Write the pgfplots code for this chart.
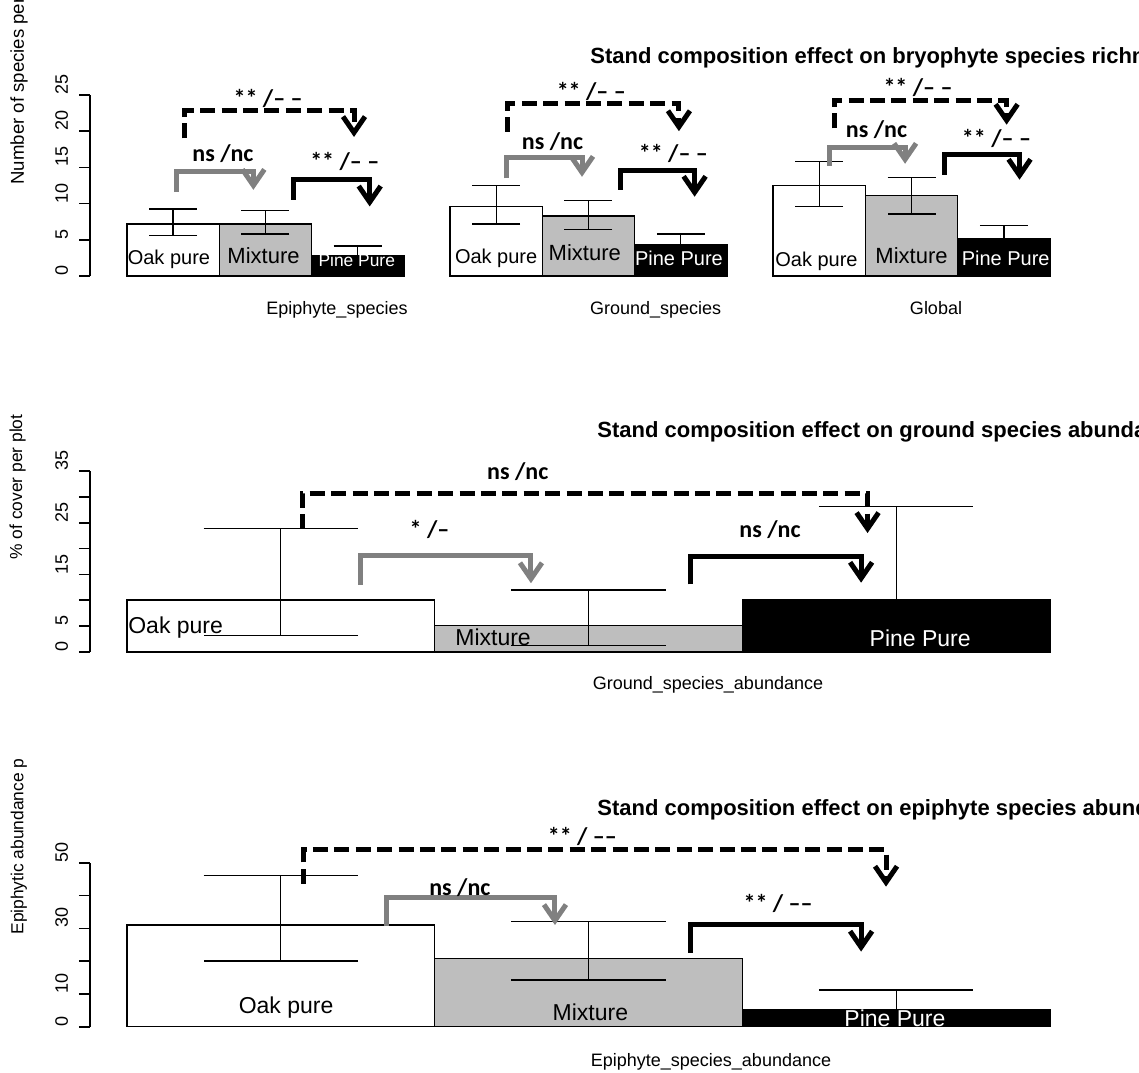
\documentclass[border=0pt]{standalone}
\usepackage{pgfplots}
\pgfplotsset{compat=1.18}
\usetikzlibrary{arrows.meta}
\usepackage{fontspec}
\setmainfont{Liberation Sans}
\newfontfamily\calib{Carlito}
\definecolor{barg}{HTML}{BEBEBE}
\definecolor{arrg}{HTML}{808080}
\tikzset{
  sig/.style={line width=2.5pt, line join=miter, -{Straight Barb[length=8pt,width=11pt]}},
  sigd/.style={sig, dash pattern=on 7.5pt off 3.2pt},
  slab/.style={font=\calib\bfseries\fontsize{12}{12}\selectfont, inner sep=0pt},
}
\pgfplotsset{
  panel/.style={
    scale only axis, width=480pt,
    axis y line*=left, axis x line=none,
    xtick=\empty,
    ytick align=outside, major tick length=5.5pt,
    y axis line style={line width=0.8pt},
    ytick style={line width=0.8pt, black},
    yticklabel style={xshift=-5.25pt, rotate=90, anchor=south west, inner sep=0pt, font=\fontsize{9}{9}\selectfont},
    clip=false, enlargelimits=false,
  },
  bar/.style 2 args={ybar, bar width=1, bar shift=0pt, draw=black, line width=0.65pt, fill=#1,
     error bars/.cd, y dir=both, y explicit,
     error bar style={line width=0.65pt, black, solid},
     error mark options={rotate=90, mark size=#2, line width=0.65pt, black, solid}},
}
\begin{document}
\begin{tikzpicture}
\useasboundingbox (0,0) rectangle (569.5pt,536pt);
%---------------- top panel
\begin{axis}[panel, at={(45pt,398pt)}, anchor=south west, height=90.5pt,
  xmin=-0.4, xmax=10, ymin=0, ymax=25, ytick={0,5,...,25}, yticklabels={0,5,10,15,20,25}]
\addplot[bar={white}{12pt}] coordinates {(0.5,7.2) += (0,2.05) -= (0,1.6) (4,9.57) += (0,2.93) -= (0,2.37) (7.5,12.5) += (0,3.3) -= (0,2.93)};
\addplot[bar={barg}{12pt}] coordinates {(1.5,7.2) += (0,1.8) -= (0,1.4) (5,8.3) += (0,2.1) -= (0,1.85) (8.5,11.1) += (0,2.5) -= (0,2.54)};
\addplot[bar={black}{12pt}] coordinates {(2.5,2.85) += (0,1.3) -= (0,1.3) (6,4.28) += (0,1.52) -= (0,1.52) (9.5,5.1) += (0,1.85) -= (0,1.85)};
% bar labels
\node[anchor=base, inner sep=0pt, font=\fontsize{10}{10}\selectfont] at (axis cs:0.455,1.52) {Oak pure};
\node[anchor=base, inner sep=0pt, font=\fontsize{11}{11}\selectfont] at (axis cs:1.48,1.75) {Mixture};
\node[anchor=base, inner sep=0pt, text=white, font=\fontsize{8.7}{8.7}\selectfont] at (axis cs:2.49,1.3) {Pine Pure};
\node[anchor=base, inner sep=0pt, font=\fontsize{10}{10}\selectfont] at (axis cs:4.0,1.75) {Oak pure};
\node[anchor=base, inner sep=0pt, font=\fontsize{11}{11}\selectfont] at (axis cs:4.96,2.2) {Mixture};
\node[anchor=base, inner sep=0pt, text=white, font=\fontsize{10}{10}\selectfont] at (axis cs:5.98,1.5) {Pine Pure};
\node[anchor=base, inner sep=0pt, font=\fontsize{10}{10}\selectfont] at (axis cs:7.47,1.3) {Oak pure};
\node[anchor=base, inner sep=0pt, font=\fontsize{11}{11}\selectfont] at (axis cs:8.5,1.75) {Mixture};
\node[anchor=base, inner sep=0pt, text=white, font=\fontsize{10}{10}\selectfont] at (axis cs:9.52,1.5) {Pine Pure};
% group 1
\draw[sigd] (axis cs:0.628,19.0) -- (axis cs:0.628,22.8) -- (axis cs:2.46,22.8) -- (axis cs:2.46,19.2);
\node[slab] at (axis cs:1.53,24.5) {** /– –};
\draw[sig, arrg] (axis cs:0.538,11.6) -- (axis cs:0.538,14.4) -- (axis cs:1.37,14.4) -- (axis cs:1.37,11.9);
\node[slab] at (axis cs:1.04,16.9) {ns /nc};
\draw[sig] (axis cs:1.80,10.5) -- (axis cs:1.80,13.3) -- (axis cs:2.63,13.3) -- (axis cs:2.63,9.6);
\node[slab] at (axis cs:2.36,15.8) {** /– –};
% group 2
\draw[sigd] (axis cs:4.12,19.9) -- (axis cs:4.12,23.8) -- (axis cs:5.98,23.8) -- (axis cs:5.98,20.0);
\node[slab] at (axis cs:5.03,25.5) {** /– –};
\draw[sig, arrg] (axis cs:4.11,13.5) -- (axis cs:4.11,16.3) -- (axis cs:4.93,16.3) -- (axis cs:4.93,13.7);
\node[slab] at (axis cs:4.61,18.5) {ns /nc};
\draw[sig] (axis cs:5.35,11.9) -- (axis cs:5.35,14.6) -- (axis cs:6.15,14.6) -- (axis cs:6.15,10.95);
\node[slab] at (axis cs:5.92,16.9) {** /– –};
% group 3
\draw[sigd] (axis cs:7.66,20.4) -- (axis cs:7.66,24.3) -- (axis cs:9.53,24.3) -- (axis cs:9.53,20.9);
\node[slab] at (axis cs:8.57,26.1) {** /– –};
\draw[sig, arrg] (axis cs:7.61,15.2) -- (axis cs:7.61,17.8) -- (axis cs:8.43,17.8) -- (axis cs:8.43,15.5);
\node[slab] at (axis cs:8.12,20.2) {ns /nc};
\draw[sig] (axis cs:8.86,14.0) -- (axis cs:8.86,16.8) -- (axis cs:9.67,16.8) -- (axis cs:9.67,13.3);
\node[slab] at (axis cs:9.42,19.0) {** /– –};
\end{axis}
%---------------- middle panel
\begin{axis}[panel, at={(45pt,210pt)}, anchor=south west, height=90.5pt,
  xmin=-0.1203, xmax=3, ymin=0, ymax=35, ytick={0,5,...,35}, yticklabels={0,5,,15,,25,,35}]
\addplot[bar={white}{38.6pt}] coordinates {(0.5,10.06) += (0,13.84) -= (0,6.86)};
\addplot[bar={barg}{38.6pt}] coordinates {(1.5,5.1) += (0,6.9) -= (0,3.9)};
\addplot[bar={black}{38.6pt}] coordinates {(2.5,10.06) += (0,18.04) -= (0,6.0)};
\node[anchor=base west, inner sep=0pt, font=\fontsize{11.5}{11.5}\selectfont] at (axis cs:0.003,3.5) {Oak pure};
\node[anchor=base west, inner sep=0pt, font=\fontsize{11.5}{11.5}\selectfont] at (axis cs:1.066,1.35) {Mixture};
\node[anchor=base, inner sep=0pt, text=white, font=\fontsize{11.5}{11.5}\selectfont] at (axis cs:2.578,1.0) {Pine Pure};
\draw[sigd] (axis cs:0.569,23.8) -- (axis cs:0.569,30.6) -- (axis cs:2.407,30.6) -- (axis cs:2.407,23.0);
\node[slab] at (axis cs:1.27,34.8) {ns /nc};
\draw[sig, arrg] (axis cs:0.76,13.0) -- (axis cs:0.76,18.6) -- (axis cs:1.313,18.6) -- (axis cs:1.313,13.3);
\node[slab] at (axis cs:0.983,23.6) {* /–};
\draw[sig] (axis cs:1.833,13.1) -- (axis cs:1.833,18.4) -- (axis cs:2.386,18.4) -- (axis cs:2.386,13.4);
\node[slab] at (axis cs:2.09,23.6) {ns /nc};
\end{axis}
%---------------- bottom panel
\begin{axis}[panel, at={(45pt,22.65pt)}, anchor=south west, height=82pt,
  xmin=-0.1203, xmax=3, ymin=0, ymax=50, ytick={0,10,...,50}, yticklabels={0,10,,30,,50}]
\addplot[bar={white}{38.6pt}] coordinates {(0.5,31.0) += (0,15.0) -= (0,11.0)};
\addplot[bar={barg}{38.6pt}] coordinates {(1.5,20.8) += (0,11.3) -= (0,6.6)};
\addplot[bar={black}{38.6pt}] coordinates {(2.5,5.1) += (0,6.1) -= (0,4.0)};
\node[anchor=base, inner sep=0pt, font=\fontsize{11.5}{11.5}\selectfont] at (axis cs:0.517,4.1) {Oak pure};
\node[anchor=base, inner sep=0pt, font=\fontsize{11.5}{11.5}\selectfont] at (axis cs:1.506,2.0) {Mixture};
\node[anchor=base, inner sep=0pt, text=white, font=\fontsize{11.5}{11.5}\selectfont] at (axis cs:2.496,0.2) {Pine Pure};
\draw[sigd] (axis cs:0.575,43.6) -- (axis cs:0.575,53.9) -- (axis cs:2.467,53.9) -- (axis cs:2.467,42.7);
\node[slab] at (axis cs:1.48,57.9) {** / ––};
\draw[sig, arrg] (axis cs:0.843,30.7) -- (axis cs:0.843,39.3) -- (axis cs:1.391,39.3) -- (axis cs:1.391,31.0);
\node[slab] at (axis cs:1.082,42.5) {ns /nc};
\draw[sig] (axis cs:1.833,22.6) -- (axis cs:1.833,31.2) -- (axis cs:2.386,31.2) -- (axis cs:2.386,22.9);
\node[slab] at (axis cs:2.116,37.6) {** / ––};
\end{axis}
%---------------- free text, pixel coordinates (origin top-left)
\begin{scope}[yshift=536pt, x=0.5pt, y=-0.5pt]
\node[anchor=base west, inner sep=0pt, font=\bfseries\fontsize{11}{12}\selectfont] at (590,63.5) {Stand composition effect on bryophyte species richness};
\node[anchor=base west, inner sep=0pt, font=\bfseries\fontsize{11}{12}\selectfont] at (597,438) {Stand composition effect on ground species abundance};
\node[anchor=base west, inner sep=0pt, font=\bfseries\fontsize{11}{12}\selectfont] at (597,815) {Stand composition effect on epiphyte species abundance};
\node[anchor=base, inner sep=0pt, font=\fontsize{9}{9}\selectfont] at (337,315) {Epiphyte\_species};
\node[anchor=base, inner sep=0pt, font=\fontsize{9}{9}\selectfont] at (655.7,315) {Ground\_species};
\node[anchor=base, inner sep=0pt, font=\fontsize{9}{9}\selectfont] at (936,315) {Global};
\node[anchor=base, inner sep=0pt, font=\fontsize{9}{9}\selectfont] at (708,689) {Ground\_species\_abundance};
\node[anchor=base, inner sep=0pt, font=\fontsize{9}{9}\selectfont] at (711,1066) {Epiphyte\_species\_abundance};
\node[anchor=west, rotate=90, inner sep=0pt, font=\fontsize{9.3}{9.3}\selectfont] at (19,185) {Number of species per plot};
\node[anchor=west, rotate=90, inner sep=0pt, font=\fontsize{8.7}{8.7}\selectfont] at (17.5,560) {\% of cover per plot};
\begin{scope}
\clip (0,758) rectangle (80,1072);
\node[anchor=west, rotate=90, inner sep=0pt, font=\fontsize{8.7}{8.7}\selectfont] at (19,935) {Epiphytic abundance per plot};
\end{scope}
\end{scope}
\end{tikzpicture}
\end{document}
